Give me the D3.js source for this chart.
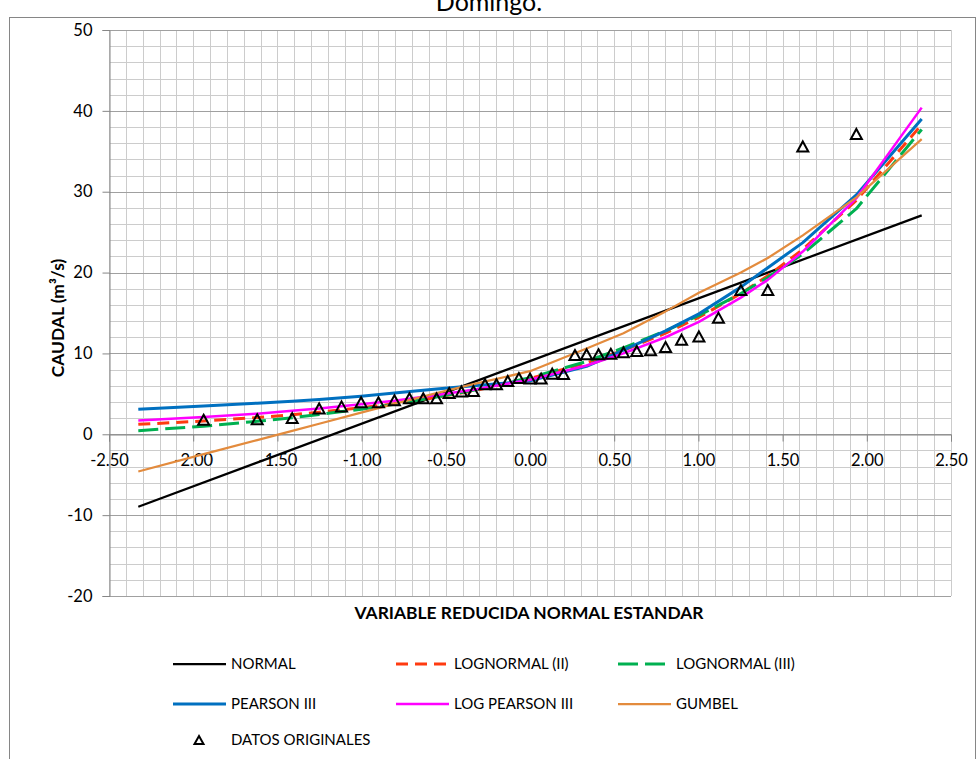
<!DOCTYPE html>
<html>
<head>
<meta charset="utf-8">
<script src="https://cdn.jsdelivr.net/npm/d3@7"></script>
<style>
  html, body { margin: 0; padding: 0; background: #ffffff; }
  svg { display: block; font-family: Lato, "Open Sans", Arial, sans-serif; }
</style>
</head>
<body>
<svg id="chart" width="978" height="759"></svg>
<script>
// Standard normal reduced variable of each observed flow (plotting position m/(n+1), n = 37)
const dataZ = [-1.938, -1.620, -1.412, -1.252, -1.119, -1.003, -0.900, -0.805, -0.716, -0.634,
               -0.555, -0.480, -0.407, -0.336, -0.267, -0.199, -0.132, -0.066, 0.000, 0.066,
               0.132, 0.199, 0.267, 0.336, 0.407, 0.480, 0.555, 0.634, 0.716, 0.805,
               0.900, 1.003, 1.119, 1.252, 1.412, 1.620, 1.938];
// Observed flows (m³/s), sorted
const dataQ = [1.8, 1.85, 2.0, 3.2, 3.45, 3.95, 3.95, 4.2, 4.45, 4.45,
               4.45, 5.1, 5.3, 5.35, 6.2, 6.2, 6.6, 6.95, 6.9, 6.9,
               7.5, 7.45, 9.8, 9.9, 9.9, 9.95, 10.15, 10.3, 10.4, 10.8,
               11.7, 12.1, 14.4, 17.85, 17.85, 35.6, 37.15];

// Reduced variable at which the fitted distributions are evaluated
const curveZ = [-2.326, -1.938, -1.620, -1.412, -1.252, -1.003, -0.805, -0.555, -0.336, 0.000,
                0.336, 0.555, 0.805, 1.003, 1.252, 1.412, 1.620, 1.938, 2.326];
const normalZ = [-2.326, 2.326];
const normalQ = [-8.97, 27.08];
const lognormal2Q = [1.23, 1.64, 2.07, 2.42, 2.72, 3.28, 3.79, 4.57, 5.37, 6.89,
                     8.83, 10.39, 12.50, 14.47, 17.41, 19.60, 22.86, 28.94, 38.3];
const lognormal3Q = [0.45, 1.0, 1.6, 2.05, 2.45, 3.1, 3.7, 4.6, 5.45, 7.0,
                     9.0, 10.7, 12.8, 14.7, 17.4, 19.4, 22.3, 27.9, 37.7];
const pearson3Q = [3.1, 3.5, 3.85, 4.1, 4.3, 4.7, 5.1, 5.6, 6.0, 6.6,
                   8.4, 10.4, 12.8, 14.9, 18.2, 20.6, 23.7, 29.6, 39.0];
const logPearson3Q = [1.7, 2.15, 2.55, 2.9, 3.2, 3.7, 4.15, 4.85, 5.5, 6.75,
                      8.5, 10.0, 12.0, 13.9, 16.9, 19.1, 22.6, 29.2, 40.4];
const gumbelQ = [-4.6, -2.45, -0.72, 0.43, 1.3, 2.68, 3.77, 5.1, 6.2, 7.8,
                 10.6, 12.5, 15.2, 17.5, 20.0, 21.8, 24.6, 29.3, 36.5];

// Axis ticks
const xTicks = [-2.5, -2.0, -1.5, -1.0, -0.5, 0.0, 0.5, 1.0, 1.5, 2.0, 2.5];
const yTicks = [-20, -10, 0, 10, 20, 30, 40, 50];

const seriesNames = ["NORMAL", "LOGNORMAL (II)", "LOGNORMAL (III)", "PEARSON III", "LOG PEARSON III", "GUMBEL"];
const seriesColors = ["#000000", "#ff3b10", "#00b050", "#0070c0", "#ff00ff", "#e38b3d"];
const seriesWidths = [2.25, 3, 3, 3, 2.5, 2.25];
const seriesDash = [null, "12,7", "20,7", null, null, null];
const pointsName = "DATOS ORIGINALES";

const svg = d3.select("#chart");
const W = 978, H = 759;

const x = d3.scaleLinear().domain([-2.5, 2.5]).range([109, 951]);
const y = d3.scaleLinear().domain([-20, 50]).range([596, 30]);

// Number formats with a plain hyphen as minus sign
const fmtX = d => d3.format(".2f")(d).replace("\u2212", "-");
const fmtY = d => d3.format("d")(d).replace("\u2212", "-");

// Title (only its lower part falls inside the frame)
svg.append("text")
  .attr("x", 489).attr("y", 11)
  .attr("text-anchor", "middle")
  .attr("font-size", 25)
  .attr("fill", "#000")
  .text("Domingo.");

// Chart frame
svg.append("rect")
  .attr("x", 9.5).attr("y", 17.5)
  .attr("width", 966).attr("height", H)
  .attr("fill", "none")
  .attr("stroke", "#868686")
  .attr("stroke-width", 1);

// Gridlines
const grid = svg.append("g").attr("shape-rendering", "crispEdges");
const xMinor = d3.range(-25, 26).map(d => d / 10);
const yMinor = d3.range(-20, 51, 2);
grid.selectAll("line.vx").data(xMinor).join("line")
  .attr("x1", d => Math.round(x(d)) + 0.5).attr("x2", d => Math.round(x(d)) + 0.5)
  .attr("y1", y(50)).attr("y2", y(-20))
  .attr("stroke", "#cccccc").attr("stroke-width", 1);
grid.selectAll("line.hy").data(yMinor.filter(d => d % 10 !== 0)).join("line")
  .attr("x1", x(-2.5)).attr("x2", x(2.5))
  .attr("y1", d => Math.round(y(d)) + 0.5).attr("y2", d => Math.round(y(d)) + 0.5)
  .attr("stroke", "#cccccc").attr("stroke-width", 1);
grid.selectAll("line.hmaj").data(yTicks).join("line")
  .attr("x1", x(-2.5)).attr("x2", x(2.5))
  .attr("y1", d => Math.round(y(d)) + 0.5).attr("y2", d => Math.round(y(d)) + 0.5)
  .attr("stroke", "#a0a0a0").attr("stroke-width", 1);

// Y axis
const yAxis = svg.append("g")
  .attr("transform", `translate(${Math.round(x(-2.5)) + 0.5},0)`)
  .call(d3.axisLeft(y).tickValues(yTicks).tickSize(7).tickPadding(10).tickFormat(fmtY));
yAxis.select(".domain").attr("stroke", "#868686");
yAxis.selectAll(".tick line").attr("stroke", "#868686");
yAxis.selectAll("text").attr("font-size", 16.5).attr("font-family", "Lato, Arial, sans-serif").attr("fill", "#000");

// X axis crossing at zero flow
const xAxis = svg.append("g")
  .attr("transform", `translate(0,${Math.round(y(0)) + 0.5})`)
  .call(d3.axisBottom(x).tickValues(xTicks).tickSize(7).tickPadding(13).tickFormat(fmtX));
xAxis.select(".domain").attr("stroke", "#868686");
xAxis.selectAll(".tick line").attr("stroke", "#868686");
xAxis.selectAll("text").attr("font-size", 16.5).attr("font-family", "Lato, Arial, sans-serif").attr("fill", "#000");

// Axis titles
svg.append("text")
  .attr("x", 529).attr("y", 619)
  .attr("text-anchor", "middle")
  .attr("font-size", 17.4).attr("font-weight", "bold")
  .text("VARIABLE REDUCIDA NORMAL ESTANDAR");
svg.append("text")
  .attr("transform", "translate(64,318) rotate(-90)")
  .attr("text-anchor", "middle")
  .attr("font-size", 17.4).attr("font-weight", "bold")
  .text("CAUDAL (m³/s)");

// Fitted distribution curves
const line = d3.line().x(d => x(d[0])).y(d => y(d[1]));
const seriesData = [
  d3.zip(normalZ, normalQ),
  d3.zip(curveZ, lognormal2Q),
  d3.zip(curveZ, lognormal3Q),
  d3.zip(curveZ, pearson3Q),
  d3.zip(curveZ, logPearson3Q),
  d3.zip(curveZ, gumbelQ)
];
const curves = svg.append("g").attr("fill", "none");
seriesData.forEach((pts, i) => {
  curves.append("path")
    .attr("d", line(pts))
    .attr("stroke", seriesColors[i])
    .attr("stroke-width", seriesWidths[i])
    .attr("stroke-dasharray", seriesDash[i])
    .attr("stroke-linejoin", "round");
});

// Observed data: hollow triangles
function triangle(cx, cy, w, h) {
  const p = d3.path();
  p.moveTo(cx, cy - h / 2);
  p.lineTo(cx + w / 2, cy + h / 2);
  p.lineTo(cx - w / 2, cy + h / 2);
  p.closePath();
  return p.toString();
}
svg.append("g").selectAll("path").data(d3.zip(dataZ, dataQ)).join("path")
  .attr("d", d => triangle(x(d[0]), y(d[1]), 11, 10))
  .attr("fill", "none")
  .attr("stroke", "#000")
  .attr("stroke-width", 2)
  .attr("stroke-linejoin", "miter");

// Legend
const legend = svg.append("g").attr("font-size", 15);
const legCols = [173, 396, 618];
const legRows = [664, 704];
seriesNames.forEach((name, i) => {
  const cx = legCols[i % 3], cy = legRows[Math.floor(i / 3)];
  legend.append("line")
    .attr("x1", cx).attr("x2", cx + 53)
    .attr("y1", cy).attr("y2", cy)
    .attr("stroke", seriesColors[i])
    .attr("stroke-width", seriesWidths[i])
    .attr("stroke-dasharray", seriesDash[i]);
  legend.append("text")
    .attr("x", cx + 58).attr("y", cy)
    .attr("dy", "0.35em")
    .text(name);
});
legend.append("path")
  .attr("d", triangle(199, 740, 9, 8))
  .attr("fill", "none").attr("stroke", "#000").attr("stroke-width", 2);
legend.append("text")
  .attr("x", 231).attr("y", 740).attr("dy", "0.35em")
  .text(pointsName);
</script>
</body>
</html>
